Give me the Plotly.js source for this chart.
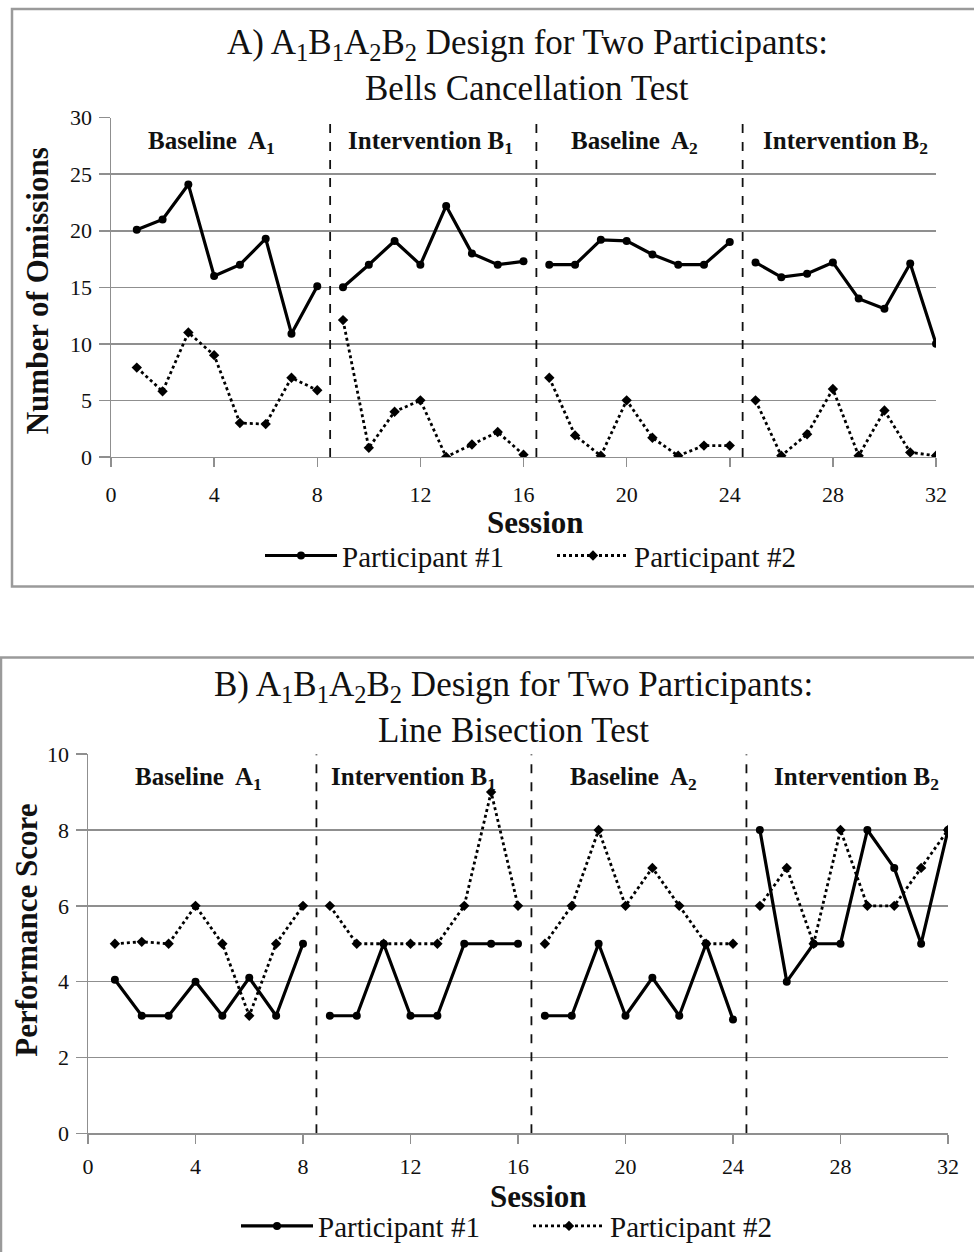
<!DOCTYPE html>
<html>
<head>
<meta charset="utf-8">
<script src="https://cdn.plot.ly/plotly-3.0.1.min.js"></script>
<style>
  html, body { margin: 0; padding: 0; background: #ffffff; }
  #chart { width: 974px; height: 1252px; }
</style>
</head>
<body>
<div id="chart"></div>
<script>
// ---------------- DATA ----------------
const sessions = [1,2,3,4,5,6,7,8,9,10,11,12,13,14,15,16,17,18,19,20,21,22,23,24,25,26,27,28,29,30,31,32];

// Panel A: Bells Cancellation Test (Number of Omissions)
const bellsP1 = [20.1,21,24.1,16,17,19.3,10.9,15.1, 15,17,19.1,17,22.2,18,17,17.3, 17,17,19.2,19.1,17.9,17,17,19, 17.2,15.9,16.2,17.2,14,13.1,17.1,10];
const bellsP2 = [7.9,5.8,11,9,3,2.9,7,5.9, 12.1,0.8,4,5,0,1.1,2.2,0.2, 7,1.9,0.1,5,1.7,0.1,1,1, 5,0.1,2,6,0.1,4.1,0.4,0.1];

// Panel B: Line Bisection Test (Performance Score)
const lineP1 = [4.05,3.1,3.1,4,3.1,4.1,3.1,5, 3.1,3.1,5,3.1,3.1,5,5,5, 3.1,3.1,5,3.1,4.1,3.1,5,3, 8,4,5,5,8,7,5,8];
const lineP2 = [5,5.05,5,6,5,3.1,5,6, 6,5,5,5,5,6,9,6, 5,6,8,6,7,6,5,5, 6,7,5,8,6,6,7,8];

const phaseBoundaries = [8.5, 16.5, 24.5];
const phaseLabels = ["Baseline  A<sub>1</sub>", "Intervention B<sub>1</sub>", "Baseline  A<sub>2</sub>", "Intervention B<sub>2</sub>"];
const phaseCentersA = [3.9, 12.4, 20.3, 28.5];
const phaseCentersB = [4.1, 12.1, 20.3, 28.6];

const seriesNames = ["Participant #1", "Participant #2"];
const xTicks = [0,4,8,12,16,20,24,28,32];

const titleA = ["A) A<sub>1</sub>B<sub>1</sub>A<sub>2</sub>B<sub>2</sub> Design for Two Participants:", "Bells Cancellation Test"];
const titleB = ["B) A<sub>1</sub>B<sub>1</sub>A<sub>2</sub>B<sub>2</sub> Design for Two Participants:", "Line Bisection Test"];
const yTitleA = "Number of Omissions";
const yTitleB = "Performance Score";
const xTitle = "Session";

// ---------------- HELPERS ----------------
function withGaps(xs, ys) {
  const ox = [], oy = [];
  for (let i = 0; i < xs.length; i++) {
    if (i > 0 && phaseBoundaries.some(b => xs[i-1] < b && xs[i] > b)) {
      ox.push(null); oy.push(null);
    }
    ox.push(xs[i]); oy.push(ys[i]);
  }
  return {x: ox, y: oy};
}

const FONT = "Liberation Serif, Times New Roman, serif";
const INK = "#111111";
const GRID = "#8f8f8f";

function mkTrace(ys, idx, xa, ya, leg) {
  const g = withGaps(sessions, ys);
  return {
    x: g.x, y: g.y, xaxis: xa, yaxis: ya, type: "scatter", mode: "lines+markers",
    name: seriesNames[idx], legend: leg, showlegend: true, connectgaps: false,
    line: idx === 0 ? {color: "#000000", width: 3.2} : {color: "#000000", width: 2.8, dash: "dot"},
    marker: idx === 0 ? {symbol: "circle", size: 8, color: "#000000"} : {symbol: "diamond", size: 8, color: "#000000"},
    hoverinfo: "x+y"
  };
}

const traces = [
  mkTrace(bellsP1, 0, "x", "y", "legend"),
  mkTrace(bellsP2, 1, "x", "y", "legend"),
  mkTrace(lineP1, 0, "x2", "y2", "legend2"),
  mkTrace(lineP2, 1, "x2", "y2", "legend2")
];

const W = 974, H = 1252;
const px = v => v / W;
const py = v => 1 - v / H;

const xAxisBase = {
  range: [0, 32], tickvals: xTicks, ticktext: xTicks.map(String),
  showgrid: false, zeroline: false, showline: true, linecolor: GRID, linewidth: 1.5,
  ticks: "outside", ticklen: 9, tickwidth: 1.5, tickcolor: GRID,
  tickfont: {family: FONT, size: 22, color: INK}, ticklabelstandoff: 8, fixedrange: true
};
const yAxisBase = {
  showgrid: true, gridcolor: GRID, gridwidth: 1.5, zeroline: false,
  showline: true, linecolor: GRID, linewidth: 1.5,
  ticks: "outside", ticklen: 11, tickwidth: 1.5, tickcolor: GRID,
  tickfont: {family: FONT, size: 22, color: INK}, ticklabelstandoff: 2, fixedrange: true
};

const legendBase = {
  orientation: "h", xanchor: "center", yanchor: "middle",
  font: {family: FONT, size: 29, color: INK}, itemwidth: 72, tracegroupgap: 0,
  entrywidth: 205, entrywidthmode: "pixels",
  bgcolor: "rgba(0,0,0,0)"
};

const layout = {
  width: W, height: H,
  margin: {l: 0, r: 0, t: 0, b: 0},
  paper_bgcolor: "#ffffff", plot_bgcolor: "#ffffff",
  font: {family: FONT, color: INK},
  xaxis: Object.assign({}, xAxisBase, {domain: [px(111), px(936)], anchor: "y"}),
  yaxis: Object.assign({}, yAxisBase, {domain: [py(458), py(118)], anchor: "x", range: [0, 30], dtick: 5}),
  xaxis2: Object.assign({}, xAxisBase, {domain: [px(88), px(948)], anchor: "y2", ticklabelstandoff: 4}),
  yaxis2: Object.assign({}, yAxisBase, {domain: [py(1136), py(756)], anchor: "x2", range: [0, 10], dtick: 2}),
  legend: Object.assign({}, legendBase, {x: px(552), y: py(557)}),
  legend2: Object.assign({}, legendBase, {x: px(528), y: py(1229)}),
  shapes: [],
  annotations: []
};

// chart box borders
layout.shapes.push({type: "rect", xref: "paper", yref: "paper", x0: px(12), x1: px(990), y0: py(588), y1: py(9),
  line: {color: "#9a9a9a", width: 2.5}, fillcolor: "rgba(0,0,0,0)", layer: "below"});
layout.shapes.push({type: "rect", xref: "paper", yref: "paper", x0: px(1), x1: px(990), y0: py(1270), y1: py(659),
  line: {color: "#9a9a9a", width: 2.5}, fillcolor: "rgba(0,0,0,0)", layer: "below"});

// phase change lines
[["x", "y", 30], ["x2", "y2", 10]].forEach(([xa, ya, top]) => {
  phaseBoundaries.forEach(b => {
    layout.shapes.push({type: "line", xref: xa, yref: ya, x0: b, x1: b, y0: 0, y1: top,
      line: {color: "#111111", width: 1.8, dash: "dash"}, layer: "above"});
  });
});

// phase labels
[["x", "y", 27.8, phaseCentersA], ["x2", "y2", 9.35, phaseCentersB]].forEach(([xa, ya, yy, centers]) => {
  phaseLabels.forEach((t, i) => {
    layout.annotations.push({xref: xa, yref: ya, x: centers[i], y: yy, text: "<b>" + t + "</b>",
      showarrow: false, xanchor: "center", yanchor: "middle",
      font: {family: FONT, size: 25, color: INK}});
  });
});

// titles (two lines each)
function titleLines(lines, cx, y1, y2) {
  [y1, y2].forEach((yy, i) => {
    layout.annotations.push({xref: "paper", yref: "paper", x: px(cx), y: py(yy), text: lines[i], showarrow: false,
      xanchor: "center", yanchor: "middle", align: "center", font: {family: FONT, size: 35, color: INK}});
  });
}
titleLines(titleA, 527, 45, 89);
titleLines(titleB, 513, 688, 732);

// axis titles
const AT = 31;
layout.annotations.push({xref: "paper", yref: "paper", x: px(535), y: py(524), text: "<b>" + xTitle + "</b>",
  showarrow: false, xanchor: "center", yanchor: "middle", font: {family: FONT, size: AT, color: INK}});
layout.annotations.push({xref: "paper", yref: "paper", x: px(538), y: py(1199), text: "<b>" + xTitle + "</b>",
  showarrow: false, xanchor: "center", yanchor: "middle", font: {family: FONT, size: AT, color: INK}});
layout.annotations.push({xref: "paper", yref: "paper", x: px(37), y: py(292), text: "<b>" + yTitleA + "</b>",
  showarrow: false, textangle: -90, xanchor: "center", yanchor: "middle", font: {family: FONT, size: AT, color: INK}});
layout.annotations.push({xref: "paper", yref: "paper", x: px(27), y: py(933), text: "<b>" + yTitleB + "</b>",
  showarrow: false, textangle: -90, xanchor: "center", yanchor: "middle", font: {family: FONT, size: AT, color: INK}});

Plotly.newPlot("chart", traces, layout, {staticPlot: true, displayModeBar: false});
</script>
</body>
</html>
